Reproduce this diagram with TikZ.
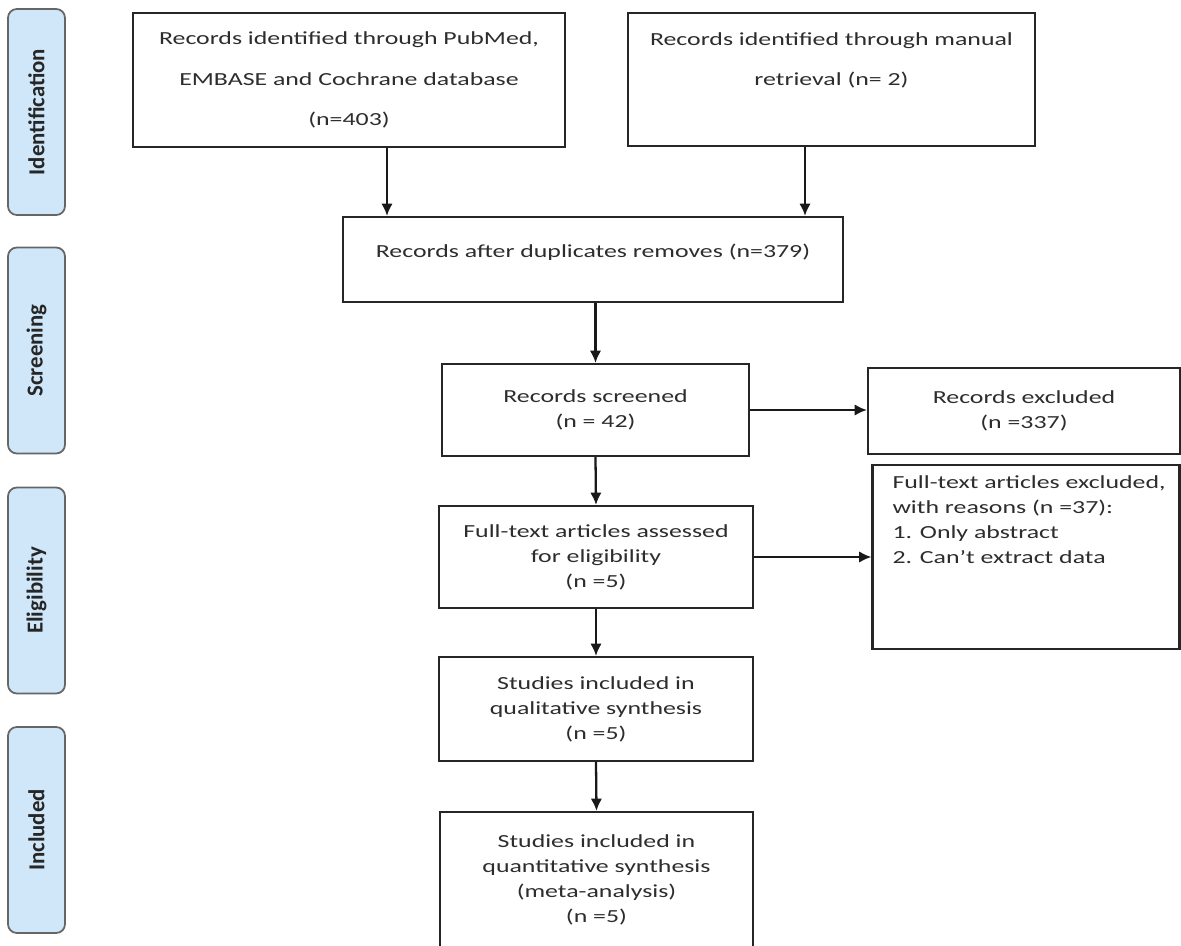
\documentclass[tikz,border=0pt]{standalone}
\usepackage{fontspec}
\setmainfont{Carlito}[FakeStretch=1.4]
\newfontfamily\stagefont{Carlito}
\usetikzlibrary{arrows.meta, positioning, calc}
\definecolor{stageblue}{RGB}{207,231,249}
\definecolor{inkgray}{RGB}{45,45,45}
\tikzset{
  stage/.style={draw=black!60, fill=stageblue, line width=1pt, rounded corners=5pt,
    rotate=90, minimum width=4.12cm, minimum height=1.14cm, inner sep=0pt,
    font=\stagefont\bfseries\fontsize{13}{15}\selectfont, text=black!85},
  box/.style={draw=black!85, line width=1.2pt, inner sep=0pt, align=center,
    text=inkgray, font=\fontsize{10.5}{14.2}\selectfont},
  arr/.style={draw=black!90, line width=1.3pt, -{Latex[length=7pt, width=6.5pt]}}
}
\begin{document}
\begin{tikzpicture}[x=0.02cm, y=-0.02cm]
  \useasboundingbox (0,0) rectangle (1181,946);
  \clip (0,0) rectangle (1181,946);
  \fill[white] (0,0) rectangle (1181,946);

  % stages
  \node[stage] (lblident) at (36.5,112) {Identification};
  \node[stage] (lblscreen) at (36.5,350.5) {Screening};
  \node[stage] (lblelig) at (36.5,590.5) {Eligibility};
  \node[stage] (lblincl) at (36.5,830) {Included};

  % identification
  \node[box, minimum width=8.64cm, minimum height=2.68cm, font=\fontsize{10.5}{23.2}\selectfont]
    (pubmed) at (349,80) {Records identified through PubMed,\\EMBASE and Cochrane database\\(n=403)};
  \node[box, minimum width=8.14cm, minimum height=2.66cm, font=\fontsize{10.5}{23.2}\selectfont]
    (manual) at (831.5,79.5) {Records identified through manual\\retrieval (n= 2)\\\mbox{}};

  % screening
  \node[box, minimum width=10cm, minimum height=1.7cm, text depth=0.35cm] (dup) at (593,259.5)
    {Records after duplicates removes (n=379)};
  \node[box, minimum width=6.14cm, minimum height=1.84cm] (screened) at (595.5,410)
    {Records screened\\(n = 42)};
  \node[box, minimum width=6.24cm, minimum height=1.72cm] (excl) at (1024,411)
    {Records excluded\\(n =337)};

  % eligibility
  \node[box, minimum width=6.28cm, minimum height=2.04cm] (full) at (596,557)
    {Full-text articles assessed\\for eligibility\\(n =5)};
  \node[box, minimum width=6.14cm, inner xsep=0.2cm] (ftex) at (1026,557)
    {\parbox[c][3.68cm][t]{5.74cm}{\vspace*{0.22cm}\raggedright\leftskip=0.2cm
     Full-text articles excluded,\\with reasons (n =37):\\1. Only abstract\\2. Can’t extract data}};

  % included
  \node[box, minimum width=6.28cm, minimum height=2.08cm] (qual) at (596,709)
    {Studies included in\\qualitative synthesis\\(n =5)};
  \node[box, minimum width=6.26cm, minimum height=2.72cm] (quant) at (596.5,880)
    {Studies included in\\quantitative synthesis\\(meta-analysis)\\(n =5)};

  % arrows
  \coordinate (pubout) at ([xshift=0.76cm]pubmed.south);
  \coordinate (manout) at ([xshift=-0.53cm]manual.south);
  \draw[arr] (pubout) -- (pubout |- dup.north);
  \draw[arr] (manout) -- (manout |- dup.north);
  \draw[arr] (screened.north |- dup.south) -- (screened.north);
  \draw[arr] (screened.east) -- (screened.east -| excl.west);
  \draw[arr] (screened.south) -- (full.north);
  \draw[arr] (full.east) -- (ftex.west);
  \draw[arr] (full.south) -- (qual.north);
  \draw[arr] (qual.south) -- (quant.north);
\end{tikzpicture}
\end{document}
